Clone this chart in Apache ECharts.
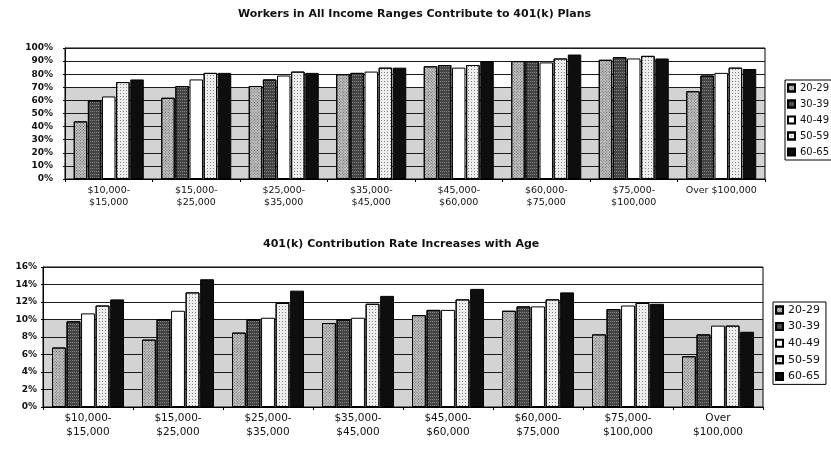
<!DOCTYPE html>
<html>
<head>
<meta charset="utf-8">
<title>401(k) participation and contribution rates by age</title>
<script src="https://cdn.jsdelivr.net/npm/echarts@6/dist/echarts.min.js"></script>
<style>
  html, body { margin: 0; padding: 0; background: #fff; }
  #chart { width: 831px; height: 449px; }
</style>
</head>
<body>
<div id="chart"></div>
<script>
// ── Data ───────────────────────────────────────────────────────────────

const ageGroups = ["20-29", "30-39", "40-49", "50-59", "60-65"];

const incomeLabelsTop = [
  "$10,000-\n$15,000", "$15,000-\n$25,000", "$25,000-\n$35,000", "$35,000-\n$45,000",
  "$45,000-\n$60,000", "$60,000-\n$75,000", "$75,000-\n$100,000", "Over $100,000",
];
const incomeLabelsBottom = [
  "$10,000-\n$15,000", "$15,000-\n$25,000", "$25,000-\n$35,000", "$35,000-\n$45,000",
  "$45,000-\n$60,000", "$60,000-\n$75,000", "$75,000-\n$100,000", "Over\n$100,000",
];

// share of workers contributing, %
const contrib2029 = [44, 62, 71, 80, 86, 90, 91, 67];
const contrib3039 = [60, 71, 76, 81, 87, 90, 93, 79];
const contrib4049 = [63, 76, 79, 82, 85, 89, 92, 81];
const contrib5059 = [74, 81, 82, 85, 87, 92, 94, 85];
const contrib6065 = [76, 81, 81, 85, 90, 95, 92, 84];

// contribution rate, % of pay
const rate2029 = [6.8, 7.7, 8.5, 9.6, 10.5, 11.0, 8.3, 5.8];
const rate3039 = [9.8, 10.0, 10.0, 10.0, 11.1, 11.5, 11.2, 8.3];
const rate4049 = [10.7, 11.0, 10.2, 10.2, 11.1, 11.5, 11.6, 9.3];
const rate5059 = [11.6, 13.1, 11.9, 11.8, 12.3, 12.3, 11.9, 9.3];
const rate6065 = [12.3, 14.6, 13.3, 12.7, 13.5, 13.1, 11.8, 8.6];

const participation = [contrib2029, contrib3039, contrib4049, contrib5059, contrib6065];
const rates = [rate2029, rate3039, rate4049, rate5059, rate6065];

// ── Look of the old b/w print ──────────────────────────────────────────

const FONT = "DejaVu Sans";

const dots = (color, dx, dy, rot = 0) => ({
  symbol: "rect", symbolSize: 1, color,
  dashArrayX: [1, dx], dashArrayY: [1, dy], rotation: rot,
});

const ageStyles = [
  { color: "#c4c4c4", decal: dots("rgba(0,0,0,0.5)", 1, 1, Math.PI / 4) },
  { color: "#444", decal: dots("rgba(255,255,255,0.35)", 1, 2) },
  { color: "#fff" },
  { color: "#eeeeee", decal: dots("rgba(0,0,0,0.45)", 2, 2) },
  { color: "#0e0e0e" },
];

// stippled back wall, white above
function wall(stop) {
  return {
    type: "linear", x: 0, y: 0, x2: 0, y2: 1,
    colorStops: [
      { offset: 0, color: "#fff" },
      { offset: stop, color: "#fff" },
      { offset: stop, color: "#d3d3d3" },
      { offset: 1, color: "#d3d3d3" },
    ],
  };
}

function xAxis(gridIndex, labels, fontSize) {
  return {
    type: "category", gridIndex, data: labels,
    axisLine: { lineStyle: { color: "#000", width: 1 } },
    axisTick: { show: true, length: 3, lineStyle: { color: "#000" } },
    axisLabel: { interval: 0, fontFamily: FONT, fontSize, color: "#111", margin: 5, lineHeight: fontSize + 3 },
    splitLine: { show: false },
  };
}

function yAxis(gridIndex, max, interval, margin) {
  return {
    type: "value", gridIndex, min: 0, max, interval,
    axisLine: { show: true, lineStyle: { color: "#000" } },
    axisTick: { show: true, length: 2, lineStyle: { color: "#000" } },
    axisLabel: { formatter: "{value}%", fontFamily: FONT, fontSize: 9, fontWeight: "bold", color: "#111", margin },
    splitLine: { lineStyle: { color: "#1a1a1a", width: 1 } },
  };
}

function legend(left, top, gap, fontSize) {
  return {
    data: ageGroups, orient: "vertical", left, top,
    itemWidth: 7, itemHeight: 7, itemGap: gap,
    padding: [2, 6, 2, 2],
    borderColor: "#000", borderWidth: 1, backgroundColor: "#fff",
    icon: "rect",
    textStyle: { fontFamily: FONT, fontSize, color: "#111", lineHeight: 12 },
    selectedMode: false,
  };
}

function barSeries(values, i, axisIndex) {
  return {
    type: "bar", name: ageGroups[i], data: values,
    xAxisIndex: axisIndex, yAxisIndex: axisIndex,
    barCategoryGap: "20%", barGap: "5%",
    itemStyle: { ...ageStyles[i], borderColor: "#000", borderWidth: 1 },
    emphasis: { disabled: true },
  };
}

// ── Chart ──────────────────────────────────────────────────────────────

const chart = echarts.init(document.getElementById("chart"));
chart.setOption({
  animation: false,
  backgroundColor: "#fff",
  title: [
    {
      text: "Workers in All Income Ranges Contribute to 401(k) Plans",
      left: 238, top: 9, padding: 0,
      textStyle: { fontFamily: FONT, fontSize: 11, fontWeight: "bold", color: "#111" },
    },
    {
      text: "401(k) Contribution Rate Increases with Age",
      left: 263, top: 239, padding: 0,
      textStyle: { fontFamily: FONT, fontSize: 11, fontWeight: "bold", color: "#111" },
    },
  ],
  legend: [legend(785, 80, 4, 10), legend(773, 302, 4.6, 11)],
  grid: [
    { left: 65, top: 48, width: 700, height: 131, show: true, borderColor: "#000", borderWidth: 1, backgroundColor: wall(0.3) },
    { left: 43, top: 267, width: 720, height: 140, show: true, borderColor: "#000", borderWidth: 1, backgroundColor: wall(0.37) },
  ],
  xAxis: [xAxis(0, incomeLabelsTop, 9.5), xAxis(1, incomeLabelsBottom, 10.5)],
  yAxis: [yAxis(0, 100, 10, 12), yAxis(1, 16, 2, 6)],
  series: [
    ...participation.map((v, i) => barSeries(v, i, 0)),
    ...rates.map((v, i) => barSeries(v, i, 1)),
  ],
});
</script>
</body>
</html>
